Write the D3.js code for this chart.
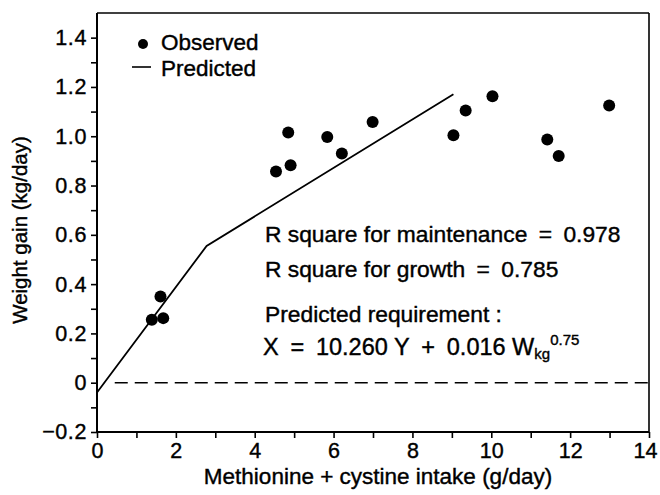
<!DOCTYPE html>
<html>
<head>
<meta charset="utf-8">
<script src="https://cdn.jsdelivr.net/npm/d3@7/dist/d3.min.js"></script>
<style>
  html, body { margin: 0; padding: 0; background: #fff; }
  svg { display: block; }
  text { font-family: "Liberation Sans", Arial, Helvetica, sans-serif; fill: #000; }
</style>
</head>
<body>
<svg id="chart" width="660" height="495"></svg>
<script>
// ---- data ----
const obsX = [1.39, 1.61, 1.68, 4.54, 4.85, 4.91, 5.84, 6.21, 6.99, 9.04, 9.35, 10.03, 11.42, 11.71, 12.99];
const obsY = [0.255, 0.35, 0.262, 0.857, 1.015, 0.882, 0.997, 0.93, 1.058, 1.004, 1.104, 1.162, 0.987, 0.92, 1.125];
const predX = [0, 2.78, 9.04];
const predY = [-0.04, 0.555, 1.17];
const xTicks = [0, 2, 4, 6, 8, 10, 12, 14];
const xMinorTicks = [1, 3, 5, 7, 9, 11, 13];
const yTicks = [-0.2, 0, 0.2, 0.4, 0.6, 0.8, 1.0, 1.2, 1.4];
const yTickLabels = ["\u22120.2", "0", "0.2", "0.4", "0.6", "0.8", "1.0", "1.2", "1.4"];
const yMinorTicks = [-0.1, 0.1, 0.3, 0.5, 0.7, 0.9, 1.1, 1.3];
const xLabel = "Methionine + cystine intake (g/day)";
const yLabel = "Weight gain (kg/day)";
const legendLabels = ["Observed", "Predicted"];
const annotations = ["R square for maintenance\u2002=\u20020.978",
                     "R square for growth\u2002=\u20020.785",
                     "Predicted requirement :"];

// ---- layout ----
const W = 660, H = 495;
const m = { left: 97, right: 11, top: 13, bottom: 63 };
const svg = d3.select("#chart");
const x = d3.scaleLinear().domain([0, 14]).range([m.left, W - m.right]);
const y = d3.scaleLinear().domain([-0.2, 1.5]).range([H - m.bottom, m.top]);

// frame (top, right)
svg.append("line").attr("x1", x(0)).attr("x2", x(14)).attr("y1", y(1.5)).attr("y2", y(1.5))
  .attr("stroke", "#000").attr("stroke-width", 1.6);
svg.append("line").attr("x1", x(14)).attr("x2", x(14)).attr("y1", y(1.5)).attr("y2", y(-0.2))
  .attr("stroke", "#000").attr("stroke-width", 1.6);

// x axis
const gx = svg.append("g").attr("transform", `translate(0,${y(-0.2)})`)
  .call(d3.axisBottom(x).tickValues(xTicks).tickFormat(d3.format("d")).tickSize(6).tickPadding(5));
const gxm = svg.append("g").attr("transform", `translate(0,${y(-0.2)})`)
  .call(d3.axisBottom(x).tickValues(xMinorTicks).tickFormat("").tickSize(6));
gxm.select(".domain").remove();

// y axis
const gy = svg.append("g").attr("transform", `translate(${x(0)},0)`)
  .call(d3.axisLeft(y).tickValues(yTicks).tickFormat((d, i) => yTickLabels[i]).tickSize(6).tickPadding(4));
const gym = svg.append("g").attr("transform", `translate(${x(0)},0)`)
  .call(d3.axisLeft(y).tickValues(yMinorTicks).tickFormat("").tickSize(6));
gym.select(".domain").remove();

[gx, gxm, gy, gym].forEach(g => {
  g.select(".domain").attr("stroke", "#000").attr("stroke-width", 2);
  g.selectAll(".tick line").attr("stroke", "#000").attr("stroke-width", 1.6);
  g.selectAll(".tick text").attr("font-size", 21.5).attr("fill", "#000")
    .attr("stroke", "#000").attr("stroke-width", 0.4)
    .attr("font-family", "'Liberation Sans', Arial, sans-serif");
});
gy.selectAll(".tick text").attr("letter-spacing", 0.6);
// last x label kept inside the picture
gx.selectAll(".tick text").filter(d => d === 14).attr("text-anchor", "end").attr("dx", 8);
gx.select(".domain").attr("d", `M${x(0)},0H${x(14)}`);
gy.select(".domain").attr("d", `M0,${y(-0.2)}V${y(1.5)}`);

// zero dashed line
svg.append("line").attr("x1", x(0.45)).attr("x2", x(14)).attr("y1", y(0)).attr("y2", y(0))
  .attr("stroke", "#000").attr("stroke-width", 1.6).attr("stroke-dasharray", "13,7");

// predicted line
const line = d3.line().x(d => x(d[0])).y(d => y(d[1]));
svg.append("path").datum(predX.map((v, i) => [v, predY[i]]))
  .attr("d", line).attr("fill", "none").attr("stroke", "#000").attr("stroke-width", 1.8);

// observed points
svg.append("g").selectAll("circle").data(obsX.map((v, i) => [v, obsY[i]])).join("circle")
  .attr("cx", d => x(d[0])).attr("cy", d => y(d[1])).attr("r", 6).attr("fill", "#000");

// text style helper
const heavy = sel => sel.attr("stroke", "#000").attr("stroke-width", 0.4);

// axis labels
svg.append("text").attr("x", 378).attr("y", 484).attr("text-anchor", "middle")
  .attr("font-size", 22.5).call(heavy).text(xLabel);
svg.append("text").attr("transform", "translate(27,230) rotate(-90)").attr("text-anchor", "middle")
  .attr("font-size", 20.5).call(heavy).text(yLabel);

// legend
svg.append("circle").attr("cx", 143).attr("cy", 44).attr("r", 5).attr("fill", "#000");
svg.append("text").attr("x", 161).attr("y", 50).attr("font-size", 22.5).call(heavy).text(legendLabels[0]);
svg.append("line").attr("x1", 132).attr("x2", 151).attr("y1", 67).attr("y2", 67)
  .attr("stroke", "#000").attr("stroke-width", 1.6);
svg.append("text").attr("x", 161).attr("y", 76).attr("font-size", 22.5).call(heavy).text(legendLabels[1]);

// annotations
const annY = [241.5, 276.5, 321.5];
annotations.forEach((t, i) => {
  svg.append("text").attr("x", 265).attr("y", annY[i]).attr("font-size", 22.8).call(heavy).text(t);
});
const eq = svg.append("text").attr("x", 263).attr("y", 354.5).attr("font-size", 23.5).call(heavy);
eq.append("tspan").text("X\u2002=\u200210.260 Y\u2002+\u20020.016 W");
eq.append("tspan").attr("font-size", 15).attr("dy", 4.5).text("kg");
eq.append("tspan").attr("font-size", 15).attr("dy", -14.5).text("0.75");
</script>
</body>
</html>
